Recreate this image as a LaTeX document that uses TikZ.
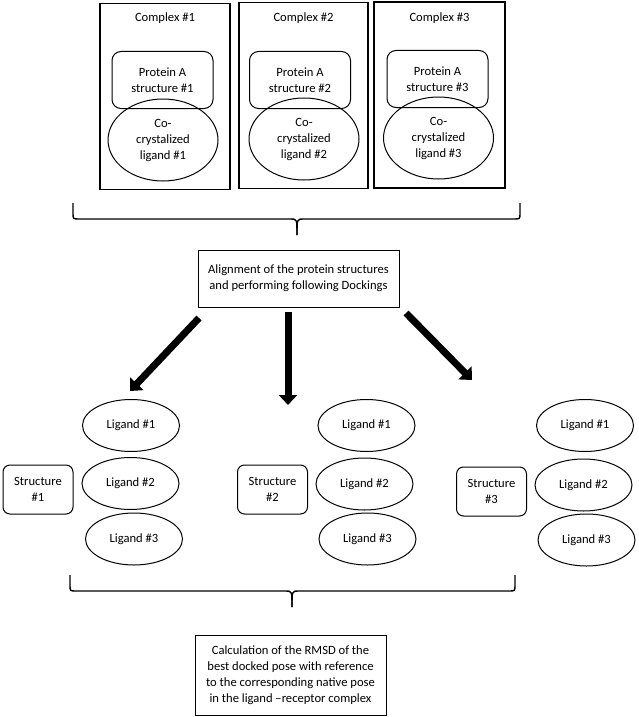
\documentclass[tikz,border=0pt]{standalone}
\usepackage{fontspec}
\setmainfont{Carlito}
\usetikzlibrary{shapes.geometric,arrows.meta}
\begin{document}
\begin{tikzpicture}[x=1pt,y=-1pt,
  every node/.style={font=\fontsize{12.6}{16}\selectfont, align=center, inner sep=0pt},
  complexbox/.style={draw, line width=1.4pt, minimum width=#1, minimum height=186pt},
  protbox/.style={draw, line width=1pt, rounded corners=9pt, minimum width=101pt, minimum height=57pt},
  ligell/.style={draw, ellipse, line width=1pt, minimum width=110pt, minimum height=82pt},
  structbox/.style={draw, line width=1pt, rounded corners=7pt, minimum width=70pt, minimum height=49pt},
  smallell/.style={draw, ellipse, line width=1pt, minimum width=97pt, minimum height=52pt},
  textbox/.style={draw, line width=1pt},
  bracepath/.style={line width=1.4pt},
  bigarrow/.style={line width=7pt, -{Triangle[length=10pt,width=18pt]}}
]
\useasboundingbox (0,0) rectangle (638,717);

% complexes
\node[complexbox=130pt] (c1) at (165,96.5) {};
\node[complexbox=129pt] (c2) at (303.5,95.5) {};
\node[complexbox=131pt] (c3) at (439.5,95) {};
\node (t1) at (165,18) {Complex \#1};
\node (t2) at (303.5,18) {Complex \#2};
\node (t3) at (439.5,18) {Complex \#3};

\node[protbox] (p1) at (162.5,80) {Protein A\\structure \#1};
\node[protbox] (p2) at (300,80) {Protein A\\structure \#2};
\node[protbox] (p3) at (437.5,79) {Protein A\\structure \#3};
\node[ligell] (l1) at (163,140) {Co-\\crystalized\\ligand \#1};
\node[ligell] (l2) at (304,139) {Co-\\crystalized\\ligand \#2};
\node[ligell] (l3) at (438.5,138) {Co-\\crystalized\\ligand \#3};

% top brace
\coordinate (b1l) at (73,203);
\coordinate (b1r) at (520,203);
\coordinate (b1t) at (297,235);
\draw[bracepath] (b1l) -- (73,213) .. controls (73,219) .. (79,219) -- (291,219) .. controls (297,219) .. (b1t);
\draw[bracepath] (b1r) -- (520,213) .. controls (520,219) .. (514,219) -- (303,219) .. controls (297,219) .. (b1t);

% alignment box
\node[textbox, minimum width=201pt, minimum height=57pt] (al) at (298.5,278.5) {Alignment of the protein structures\\and performing following Dockings};

% arrows
\coordinate (a1s) at (199,318);
\coordinate (a1e) at (130,391);
\coordinate (a2s) at (288,312);
\coordinate (a2e) at (288,405);
\coordinate (a3s) at (406,313);
\coordinate (a3e) at (472,380);
\draw[bigarrow] (a1s) -- (a1e);
\draw[bigarrow] (a2s) -- (a2e);
\draw[bigarrow] (a3s) -- (a3e);

% group 1
\node[structbox] (s1) at (38,489.5) {Structure\\\#1};
\node[smallell] (g11) at (131,425.5) {Ligand \#1};
\node[smallell] (g12) at (130.5,483.5) {Ligand \#2};
\node[smallell] (g13) at (134,539) {Ligand \#3};
% group 2
\node[structbox] (s2) at (272.5,489.5) {Structure\\\#2};
\node[smallell] (g21) at (366.5,425.5) {Ligand \#1};
\node[smallell] (g22) at (364.5,484) {Ligand \#2};
\node[smallell] (g23) at (367.5,539) {Ligand \#3};
% group 3
\node[structbox] (s3) at (491.5,491.5) {Structure\\\#3};
\node[smallell] (g31) at (585,425.5) {Ligand \#1};
\node[smallell] (g32) at (583.5,485) {Ligand \#2};
\node[smallell] (g33) at (586.5,540) {Ligand \#3};

% bottom brace
\coordinate (b2l) at (70,575);
\coordinate (b2r) at (515,575);
\coordinate (b2t) at (292,607);
\draw[bracepath] (b2l) -- (70,585) .. controls (70,591) .. (76,591) -- (286,591) .. controls (292,591) .. (b2t);
\draw[bracepath] (b2r) -- (515,585) .. controls (515,591) .. (509,591) -- (298,591) .. controls (292,591) .. (b2t);

% calculation box
\node[textbox, minimum width=191pt, minimum height=80pt] (calc) at (290.5,675) {Calculation of the RMSD of the\\best docked pose with reference\\to the corresponding native pose\\in the ligand \textendash receptor complex};
\end{tikzpicture}
\end{document}
